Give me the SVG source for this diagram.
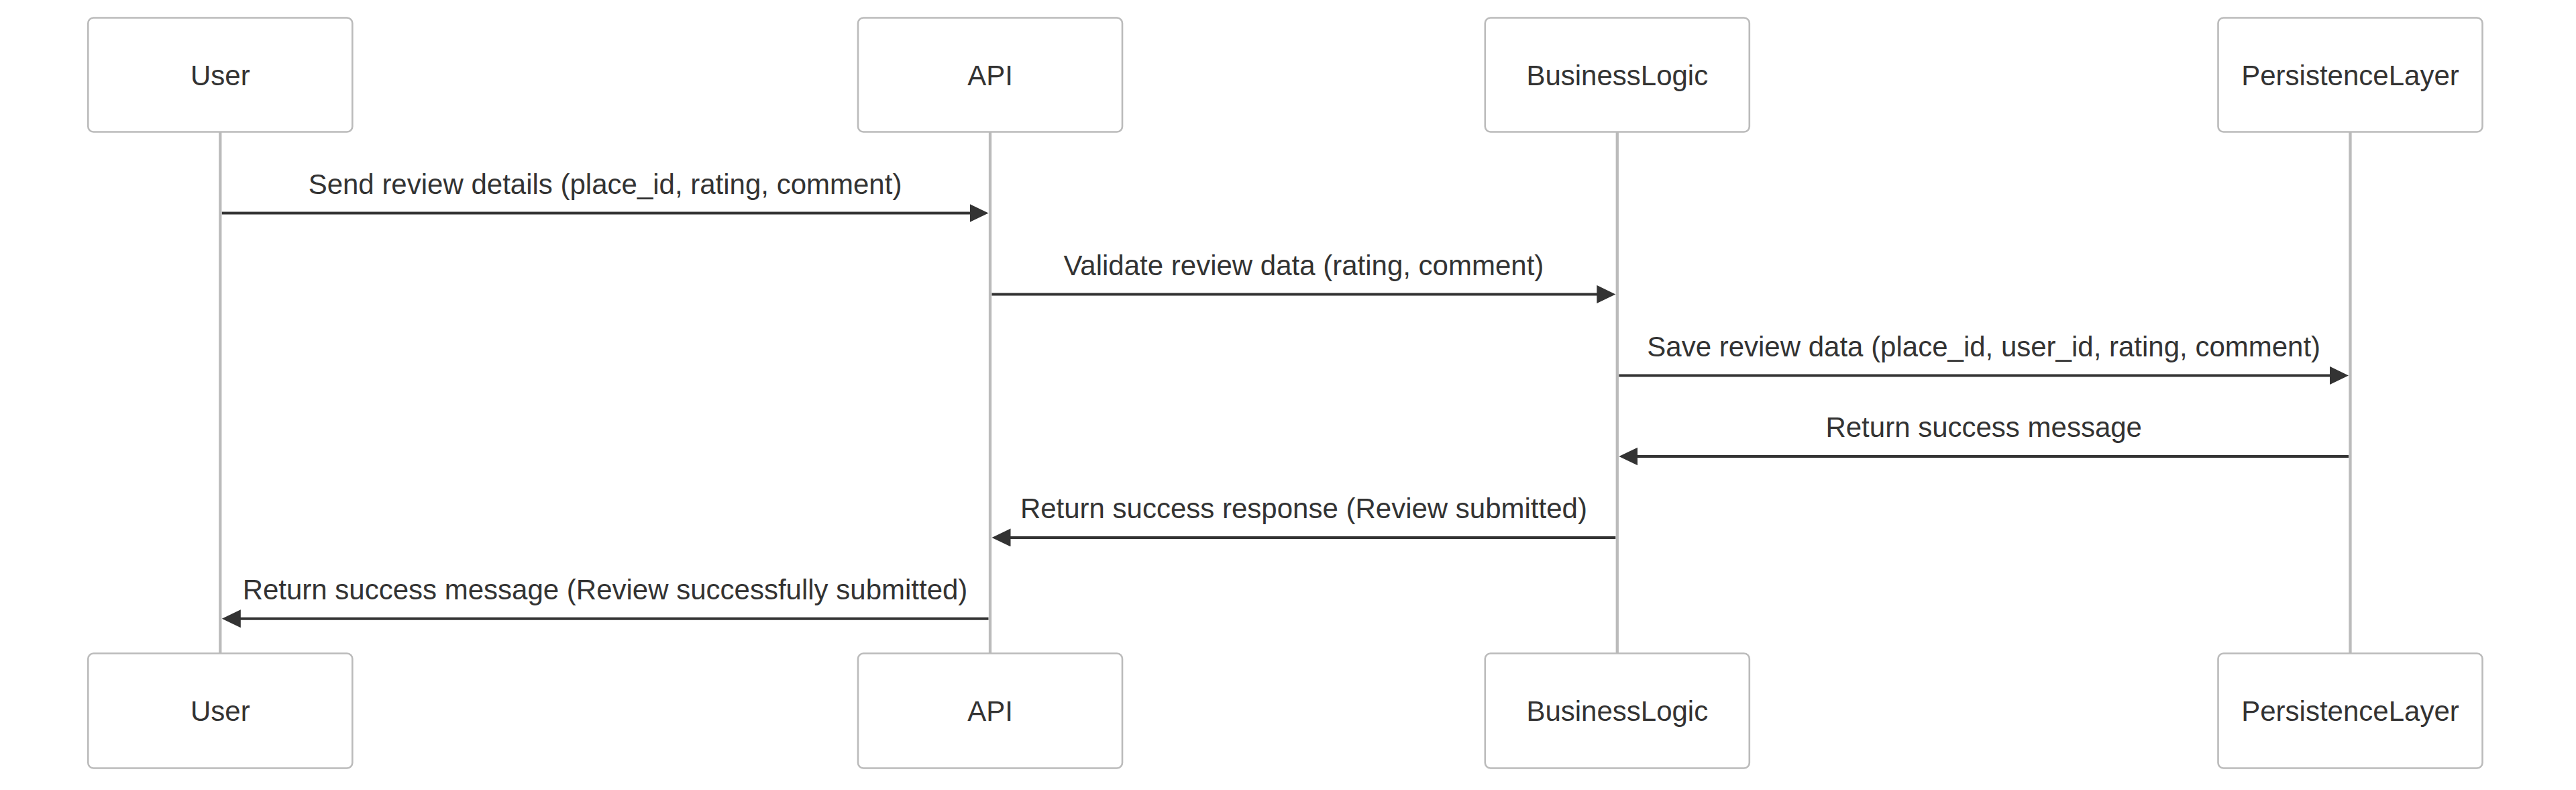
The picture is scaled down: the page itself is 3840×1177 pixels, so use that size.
<svg xmlns="http://www.w3.org/2000/svg" width="3840" height="1177" viewBox="0 0 3840 1177">
<style>
.actor{fill:#ffffff;stroke:#bbbbbb;stroke-width:2.6}
.atext{font-family:"Liberation Sans",Arial,sans-serif;font-size:42px;fill:#333333;text-anchor:middle}
.life{stroke:#bbbbbb;stroke-width:4.3}
.msg{stroke:#333333;stroke-width:4;fill:none;marker-end:url(#ah)}
.mtext{font-family:"Liberation Sans",Arial,sans-serif;font-size:42px;fill:#333333;text-anchor:middle}
</style>
<defs>
<marker id="ah" markerUnits="userSpaceOnUse" markerWidth="30" markerHeight="30" refX="22.5" refY="13.5" orient="auto">
<path d="M0,0 L28,13.5 L0,27 z" fill="#333333"/>
</marker>
</defs>
<rect width="3840" height="1177" fill="#ffffff"/>
<g id="lifelines">
<line class="life" x1="328.3" y1="197" x2="328.3" y2="973"/>
<line class="life" x1="1476" y1="197" x2="1476" y2="973"/>
<line class="life" x1="2410.8" y1="197" x2="2410.8" y2="973"/>
<line class="life" x1="3503.5" y1="197" x2="3503.5" y2="973"/>
</g>
<g id="User">
<rect class="actor" x="131.3" y="26.5" width="394" height="170" rx="8"/>
<text class="atext" x="328.3" y="126.5">User</text>
<rect class="actor" x="131.3" y="973.5" width="394" height="171" rx="8"/>
<text class="atext" x="328.3" y="1074">User</text>
</g>
<g id="API">
<rect class="actor" x="1279" y="26.5" width="394" height="170" rx="8"/>
<text class="atext" x="1476" y="126.5">API</text>
<rect class="actor" x="1279" y="973.5" width="394" height="171" rx="8"/>
<text class="atext" x="1476" y="1074">API</text>
</g>
<g id="BusinessLogic">
<rect class="actor" x="2213.8" y="26.5" width="394" height="170" rx="8"/>
<text class="atext" x="2410.8" y="126.5">BusinessLogic</text>
<rect class="actor" x="2213.8" y="973.5" width="394" height="171" rx="8"/>
<text class="atext" x="2410.8" y="1074">BusinessLogic</text>
</g>
<g id="PersistenceLayer">
<rect class="actor" x="3306.5" y="26.5" width="394" height="170" rx="8"/>
<text class="atext" x="3503.5" y="126.5">PersistenceLayer</text>
<rect class="actor" x="3306.5" y="973.5" width="394" height="171" rx="8"/>
<text class="atext" x="3503.5" y="1074">PersistenceLayer</text>
</g>
<g id="connectors">
<line class="msg" x1="330.8" y1="317.5" x2="1468" y2="317.5"/>
<text class="mtext" x="902" y="288.8">Send review details (place_id, rating, comment)</text>
<line class="msg" x1="1478.5" y1="438.4" x2="2402.8" y2="438.4"/>
<text class="mtext" x="1943.4" y="409.7">Validate review data (rating, comment)</text>
<line class="msg" x1="2413.3" y1="559.4" x2="3495.5" y2="559.4"/>
<text class="mtext" x="2957.2" y="530.7">Save review data (place_id, user_id, rating, comment)</text>
<line class="msg" x1="3501" y1="680" x2="2418.8" y2="680"/>
<text class="mtext" x="2957.2" y="651.3">Return success message</text>
<line class="msg" x1="2408.3" y1="800.9" x2="1484" y2="800.9"/>
<text class="mtext" x="1943.4" y="772.2">Return success response (Review submitted)</text>
<line class="msg" x1="1473.5" y1="921.7" x2="336.3" y2="921.7"/>
<text class="mtext" x="902" y="893">Return success message (Review successfully submitted)</text>
</g>
</svg>
